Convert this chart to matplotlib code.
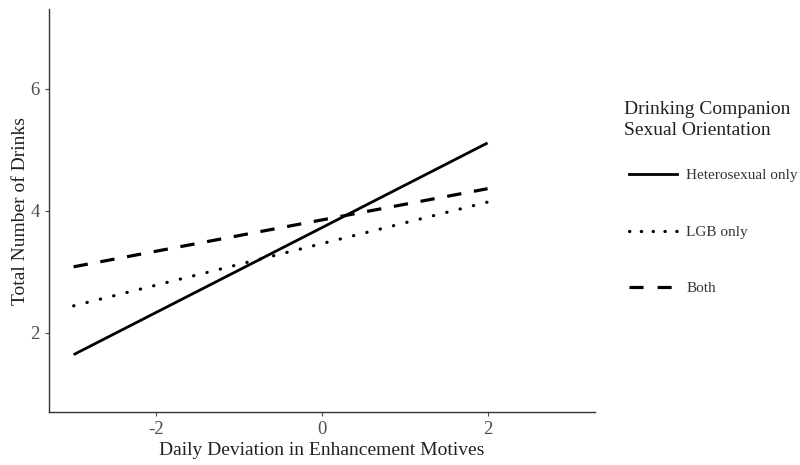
import matplotlib
matplotlib.use("Agg")
import matplotlib.pyplot as plt
from matplotlib.lines import Line2D

# predicted values at the ends of each line
x_vals = [-3, 2]
groups = ["Heterosexual only", "LGB only", "Both"]
hetero = [1.64, 5.11]
lgb = [2.44, 4.14]
both = [3.08, 4.36]

x_ticks = [-2, 0, 2]
y_ticks = [2, 4, 6]

plt.rcParams['font.family'] = ['Liberation Serif', 'DejaVu Serif']

fig = plt.figure(figsize=(8, 4.65), dpi=100)
ax = fig.add_axes([0.061, 0.114, 0.683, 0.866])

lw = 2.0
dot_style = (0, (0.1, 4.2))
dash_style = (0, (4.5, 4.0))
ax.plot(x_vals, hetero, color='black', linewidth=lw, linestyle='-', solid_capstyle='butt')
ax.plot(x_vals, lgb, color='black', linewidth=lw + 0.3, linestyle=dot_style, dash_capstyle='round')
ax.plot(x_vals, both, color='black', linewidth=lw + 0.3, linestyle=dash_style, dash_capstyle='butt')

ax.set_xlim(-3.3, 3.3)
ax.set_ylim(0.7, 7.3)
ax.set_xticks(x_ticks)
ax.set_yticks(y_ticks)
ax.set_xticklabels(['-2', '0', '2'])
ax.tick_params(colors='#4d4d4d', labelsize=13.5, length=3, width=0.8, labelcolor='#4d4d4d')

for s in ['top', 'right']:
    ax.spines[s].set_visible(False)
for s in ['left', 'bottom']:
    ax.spines[s].set_color('#333333')
    ax.spines[s].set_linewidth(1.0)

ax.set_xlabel('Daily Deviation in Enhancement Motives', fontsize=14, color='#222222', labelpad=3)
ax.set_ylabel('Total Number of Drinks', fontsize=14, color='#222222', labelpad=1)

# legend title as separate text
fig.text(0.78, 0.742, 'Drinking Companion\nSexual Orientation', fontsize=14,
         color='#222222', ha='left', va='center', linespacing=1.35)

handles = [
    Line2D([], [], color='black', linewidth=lw, linestyle='-'),
    Line2D([], [], color='black', linewidth=lw + 0.3, linestyle=(0, (0.1, 3.6)), dash_capstyle='round'),
    Line2D([], [], color='black', linewidth=lw + 0.3, linestyle=(0, (4.4, 4.4))),
]
leg = fig.legend(handles, groups, loc='center left', bbox_to_anchor=(0.786, 0.501),
                 frameon=False, fontsize=11, handlelength=3.15, labelspacing=2.8,
                 handletextpad=0.6, borderaxespad=0, borderpad=0)
for t in leg.get_texts():
    t.set_color('#333333')

fig.savefig('out.png', dpi=100)
